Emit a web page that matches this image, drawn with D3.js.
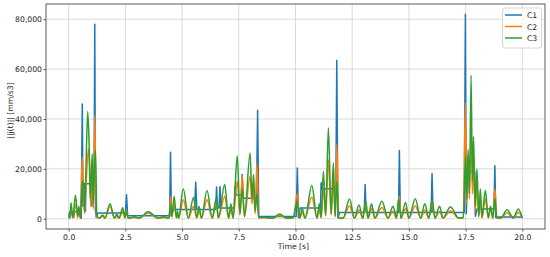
<!DOCTYPE html>
<html>
<head>
<meta charset="utf-8">
<script src="https://cdn.jsdelivr.net/npm/d3@7"></script>
<style>
html,body{margin:0;padding:0;background:#fff;}
svg{display:block;font-family:"DejaVu Sans",sans-serif;}
</style>
</head>
<body>
<svg id="chart" width="550" height="257"></svg>
<script>
const seriesNames = ["C1", "C2", "C3"];
const seriesColors = ["#1f77b4", "#ff7f0e", "#2ca02c"];
const xTicks = [0, 2.5, 5, 7.5, 10, 12.5, 15, 17.5, 20];
const yTicks = [0, 20000, 40000, 60000, 80000];

const c1 = [
[0,800],[0.05,2800],[0.2,2800],[0.22,500],[0.25,2800],[0.5,2800],[0.55,200],[0.6,46000],[0.63,5000],[0.66,14000],[0.72,14000],[0.74,3000],[0.76,14000],[1.0,14000],[1.02,5000],[1.05,14000],[1.12,14000],[1.15,78000],[1.18,3000],[1.22,500],[1.28,2300],[2.5,2300],[2.55,9600],[2.6,1200],[4.45,1200],[4.49,26700],[4.53,1000],[4.6,3700],[5.55,3700],[5.6,14600],[5.65,3700],[6.48,3700],[6.52,12700],[6.56,4300],[6.63,4300],[6.67,12900],[6.71,4300],[7.3,4300],[7.33,13000],[7.37,9500],[7.62,9500],[7.65,17700],[7.7,8200],[8.28,8200],[8.33,43500],[8.38,900],[10.03,900],[10.08,20400],[10.13,500],[10.2,4300],[11.1,4300],[11.13,14400],[11.16,12000],[11.78,12000],[11.82,63500],[11.87,500],[11.95,2500],[13.03,2500],[13.07,13700],[13.11,2500],[14.54,2500],[14.58,27400],[14.62,2500],[15.98,2500],[16.02,18100],[16.06,2500],[17.44,2500],[17.49,82000],[17.53,2000],[17.58,19000],[17.9,19000],[17.93,1000],[18.0,3900],[18.75,3900],[18.79,21300],[18.83,500],[18.9,700],[20,700]
];

const c2 = [
[0,800],[0.05,300],[0.1,3500],[0.18,300],[0.3,5800],[0.4,500],[0.45,3000],[0.52,200],
[0.6,25000],[0.66,8000],[0.7,2000],[0.76,12000],[0.87,28000],[0.93,20000],[0.97,5000],[1.02,15000],[1.06,20000],[1.09,4000],[1.15,41500],[1.22,1000],
[1.35,200],[1.5,1000],[1.6,200],[1.82,5000],[2.02,200],[2.12,1200],[2.22,200],[2.38,3000],[2.48,300],[2.55,3500],[2.62,200],
[2.9,500],[3.1,200],[3.5,2200],[3.95,200],[4.2,500],[4.42,200],
[4.5,9000],[4.55,700],[4.65,6000],[4.75,300],[4.8,2000],[4.85,200],[5.05,7600],[5.28,200],[5.5,5000],[5.65,300],[5.75,3500],[5.85,200],[6.1,7600],[6.33,200],[6.5,6000],[6.6,300],[6.88,9000],[7.05,200],[7.15,4000],[7.25,200],[7.43,15000],[7.55,1500],[7.65,17300],[7.75,800],[8.0,17000],[8.08,6000],[8.15,12000],[8.22,2000],[8.3,22500],[8.37,400],
[8.6,400],[9.0,200],[9.3,1300],[9.6,200],[9.9,400],
[10.08,10000],[10.18,200],[10.3,2500],[10.42,200],[10.72,8700],[10.95,200],[11.05,4000],[11.13,400],[11.23,12000],[11.33,1000],[11.45,23700],[11.57,1500],[11.67,15000],[11.75,800],[11.82,30000],[11.9,200],
[12.1,200],[12.38,5200],[12.6,200],[12.8,3500],[12.97,200],[13.07,6000],[13.2,200],[13.35,4000],[13.5,200],[13.81,4500],[14.08,200],[14.3,3000],[14.45,200],[14.58,9000],[14.65,200],[14.85,4000],[15.0,200],[15.28,5200],[15.52,200],[15.7,3500],[15.88,200],[16.02,6500],[16.15,200],[16.35,3000],[16.5,200],[16.83,3200],[17.2,200],[17.4,400],
[17.49,46600],[17.55,6000],[17.61,20000],[17.67,8000],[17.74,38600],[17.8,10000],[17.85,22000],[17.92,3000],[18.0,14000],[18.08,700],[18.15,8000],[18.22,300],[18.37,8000],[18.5,300],[18.6,4000],[18.7,200],[18.79,12000],[18.88,200],
[19.05,200],[19.33,2400],[19.6,200],[19.82,2600],[20,200]
];

const c3 = [
[0,1000],[0.05,300],[0.1,6400],[0.18,500],[0.3,9400],[0.4,1000],[0.45,5000],[0.52,200],
[0.6,15000],[0.66,14000],[0.7,3000],[0.76,20000],[0.84,43000],[0.9,30000],[0.95,8000],[1.0,18000],[1.04,26000],[1.08,6000],[1.13,20000],[1.18,27500],[1.24,1500],
[1.35,300],[1.5,1500],[1.6,300],[1.82,6000],[2.02,300],[2.12,1800],[2.22,300],[2.38,4400],[2.48,500],[2.55,3000],[2.62,300],
[2.9,800],[3.1,300],[3.5,2800],[3.95,300],[4.2,800],[4.42,300],
[4.5,6000],[4.55,1000],[4.65,9000],[4.75,500],[4.8,3000],[4.85,300],[5.05,12000],[5.28,300],[5.5,8500],[5.65,500],[5.75,5000],[5.85,300],[6.1,11300],[6.33,300],[6.5,8000],[6.6,500],[6.88,13700],[7.05,300],[7.15,6000],[7.25,300],[7.43,25300],[7.55,2000],[7.65,12000],[7.75,1000],[8.0,26400],[8.08,8000],[8.15,17700],[8.22,3000],[8.3,10000],[8.37,500],
[8.6,600],[9.0,300],[9.3,1900],[9.6,300],[9.9,500],
[10.08,7000],[10.18,300],[10.3,4000],[10.42,300],[10.72,13300],[10.95,300],[11.05,6000],[11.13,500],[11.23,19000],[11.33,1500],[11.45,36500],[11.57,2000],[11.67,22400],[11.75,1000],[11.82,15000],[11.9,300],
[12.1,300],[12.38,7900],[12.6,300],[12.8,5500],[12.97,300],[13.1,7000],[13.2,300],[13.35,6000],[13.5,300],[13.81,7000],[14.08,300],[14.3,5000],[14.45,300],[14.55,8000],[14.65,300],[14.85,6500],[15.0,300],[15.28,8000],[15.52,300],[15.7,6000],[15.88,300],[16.02,7500],[16.15,300],[16.35,5000],[16.5,300],[16.83,4700],[17.2,300],[17.4,500],
[17.5,25000],[17.55,8000],[17.61,27800],[17.67,10000],[17.74,57500],[17.8,15000],[17.85,33000],[17.92,5000],[18.0,20000],[18.08,1000],[18.15,12000],[18.22,500],[18.37,11400],[18.5,500],[18.6,5000],[18.7,300],[18.79,8000],[18.88,300],
[19.05,300],[19.33,3600],[19.6,300],[19.82,3900],[20,300]
];

const seriesData = [c1, c2, c3];

const svg = d3.select("#chart");
const m = {left: 46, right: 545, top: 4, bottom: 229};
const fs = 7.7;

const x = d3.scaleLinear().domain([-1, 21]).range([m.left, m.right]);
const y = d3.scaleLinear().domain([-4100, 86100]).range([m.bottom, m.top]);

// grid
const grid = svg.append("g");
grid.selectAll("line.gx").data(xTicks).enter().append("line")
  .attr("x1", d => x(d)).attr("x2", d => x(d))
  .attr("y1", m.top).attr("y2", m.bottom)
  .attr("stroke", "#d0d0d0").attr("stroke-width", 0.8);
grid.selectAll("line.gy").data(yTicks).enter().append("line")
  .attr("x1", m.left).attr("x2", m.right)
  .attr("y1", d => y(d)).attr("y2", d => y(d))
  .attr("stroke", "#d0d0d0").attr("stroke-width", 0.8);

// clip
svg.append("clipPath").attr("id", "clip").append("rect")
  .attr("x", m.left).attr("y", m.top).attr("width", m.right - m.left).attr("height", m.bottom - m.top);

const curves = [d3.curveLinear, d3.curveMonotoneX, d3.curveMonotoneX];
const plot = svg.append("g").attr("clip-path", "url(#clip)");
seriesData.forEach((data, i) => {
  const line = d3.line().x(d => x(d[0])).y(d => y(Math.max(0, d[1]))).curve(curves[i]);
  plot.append("path").datum(data)
    .attr("d", line)
    .attr("fill", "none")
    .attr("stroke", seriesColors[i])
    .attr("stroke-width", 1.5)
    .attr("stroke-linejoin", "round");
});

// axes
const fmt = d3.format(",");
const xAxis = d3.axisBottom(x).tickValues(xTicks).tickFormat(d3.format(".1f")).tickSize(2.5).tickPadding(3);
const yAxis = d3.axisLeft(y).tickValues(yTicks).tickFormat(fmt).tickSize(2.5).tickPadding(1.5);

const gx = svg.append("g").attr("transform", `translate(0,${m.bottom})`).call(xAxis);
const gy = svg.append("g").attr("transform", `translate(${m.left},0)`).call(yAxis);
[gx, gy].forEach(g => {
  g.select(".domain").remove();
  g.selectAll("text").attr("font-size", fs).attr("fill", "#222").attr("font-family", "DejaVu Sans");
  g.selectAll("line").attr("stroke", "#333").attr("stroke-width", 0.8);
});

// frame
svg.append("rect")
  .attr("x", m.left).attr("y", m.top)
  .attr("width", m.right - m.left).attr("height", m.bottom - m.top)
  .attr("fill", "none").attr("stroke", "#333").attr("stroke-width", 0.8);

// labels
svg.append("text").attr("x", (m.left + m.right) / 2 - 2).attr("y", 249)
  .attr("text-anchor", "middle").attr("font-size", fs).attr("fill", "#222")
  .text("Time [s]");
svg.append("text").attr("transform", `translate(12.5,${(m.top + m.bottom) / 2 - 6}) rotate(-90)`)
  .attr("text-anchor", "middle").attr("font-size", fs).attr("fill", "#222")
  .text("||j(t)|| [mm/s3]");

// legend
const lg = svg.append("g");
lg.append("rect").attr("x", 502.5).attr("y", 8).attr("width", 39).attr("height", 40).attr("rx", 2)
  .attr("fill", "#fff").attr("fill-opacity", 0.8).attr("stroke", "#ccc").attr("stroke-width", 0.8);
seriesNames.forEach((name, i) => {
  const yy = 15 + i * 11.5;
  lg.append("line").attr("x1", 505).attr("x2", 522).attr("y1", yy).attr("y2", yy)
    .attr("stroke", seriesColors[i]).attr("stroke-width", 1.5);
  lg.append("text").attr("x", 527).attr("y", yy + 3).attr("font-size", fs).attr("fill", "#222").text(name);
});
</script>
</body>
</html>
